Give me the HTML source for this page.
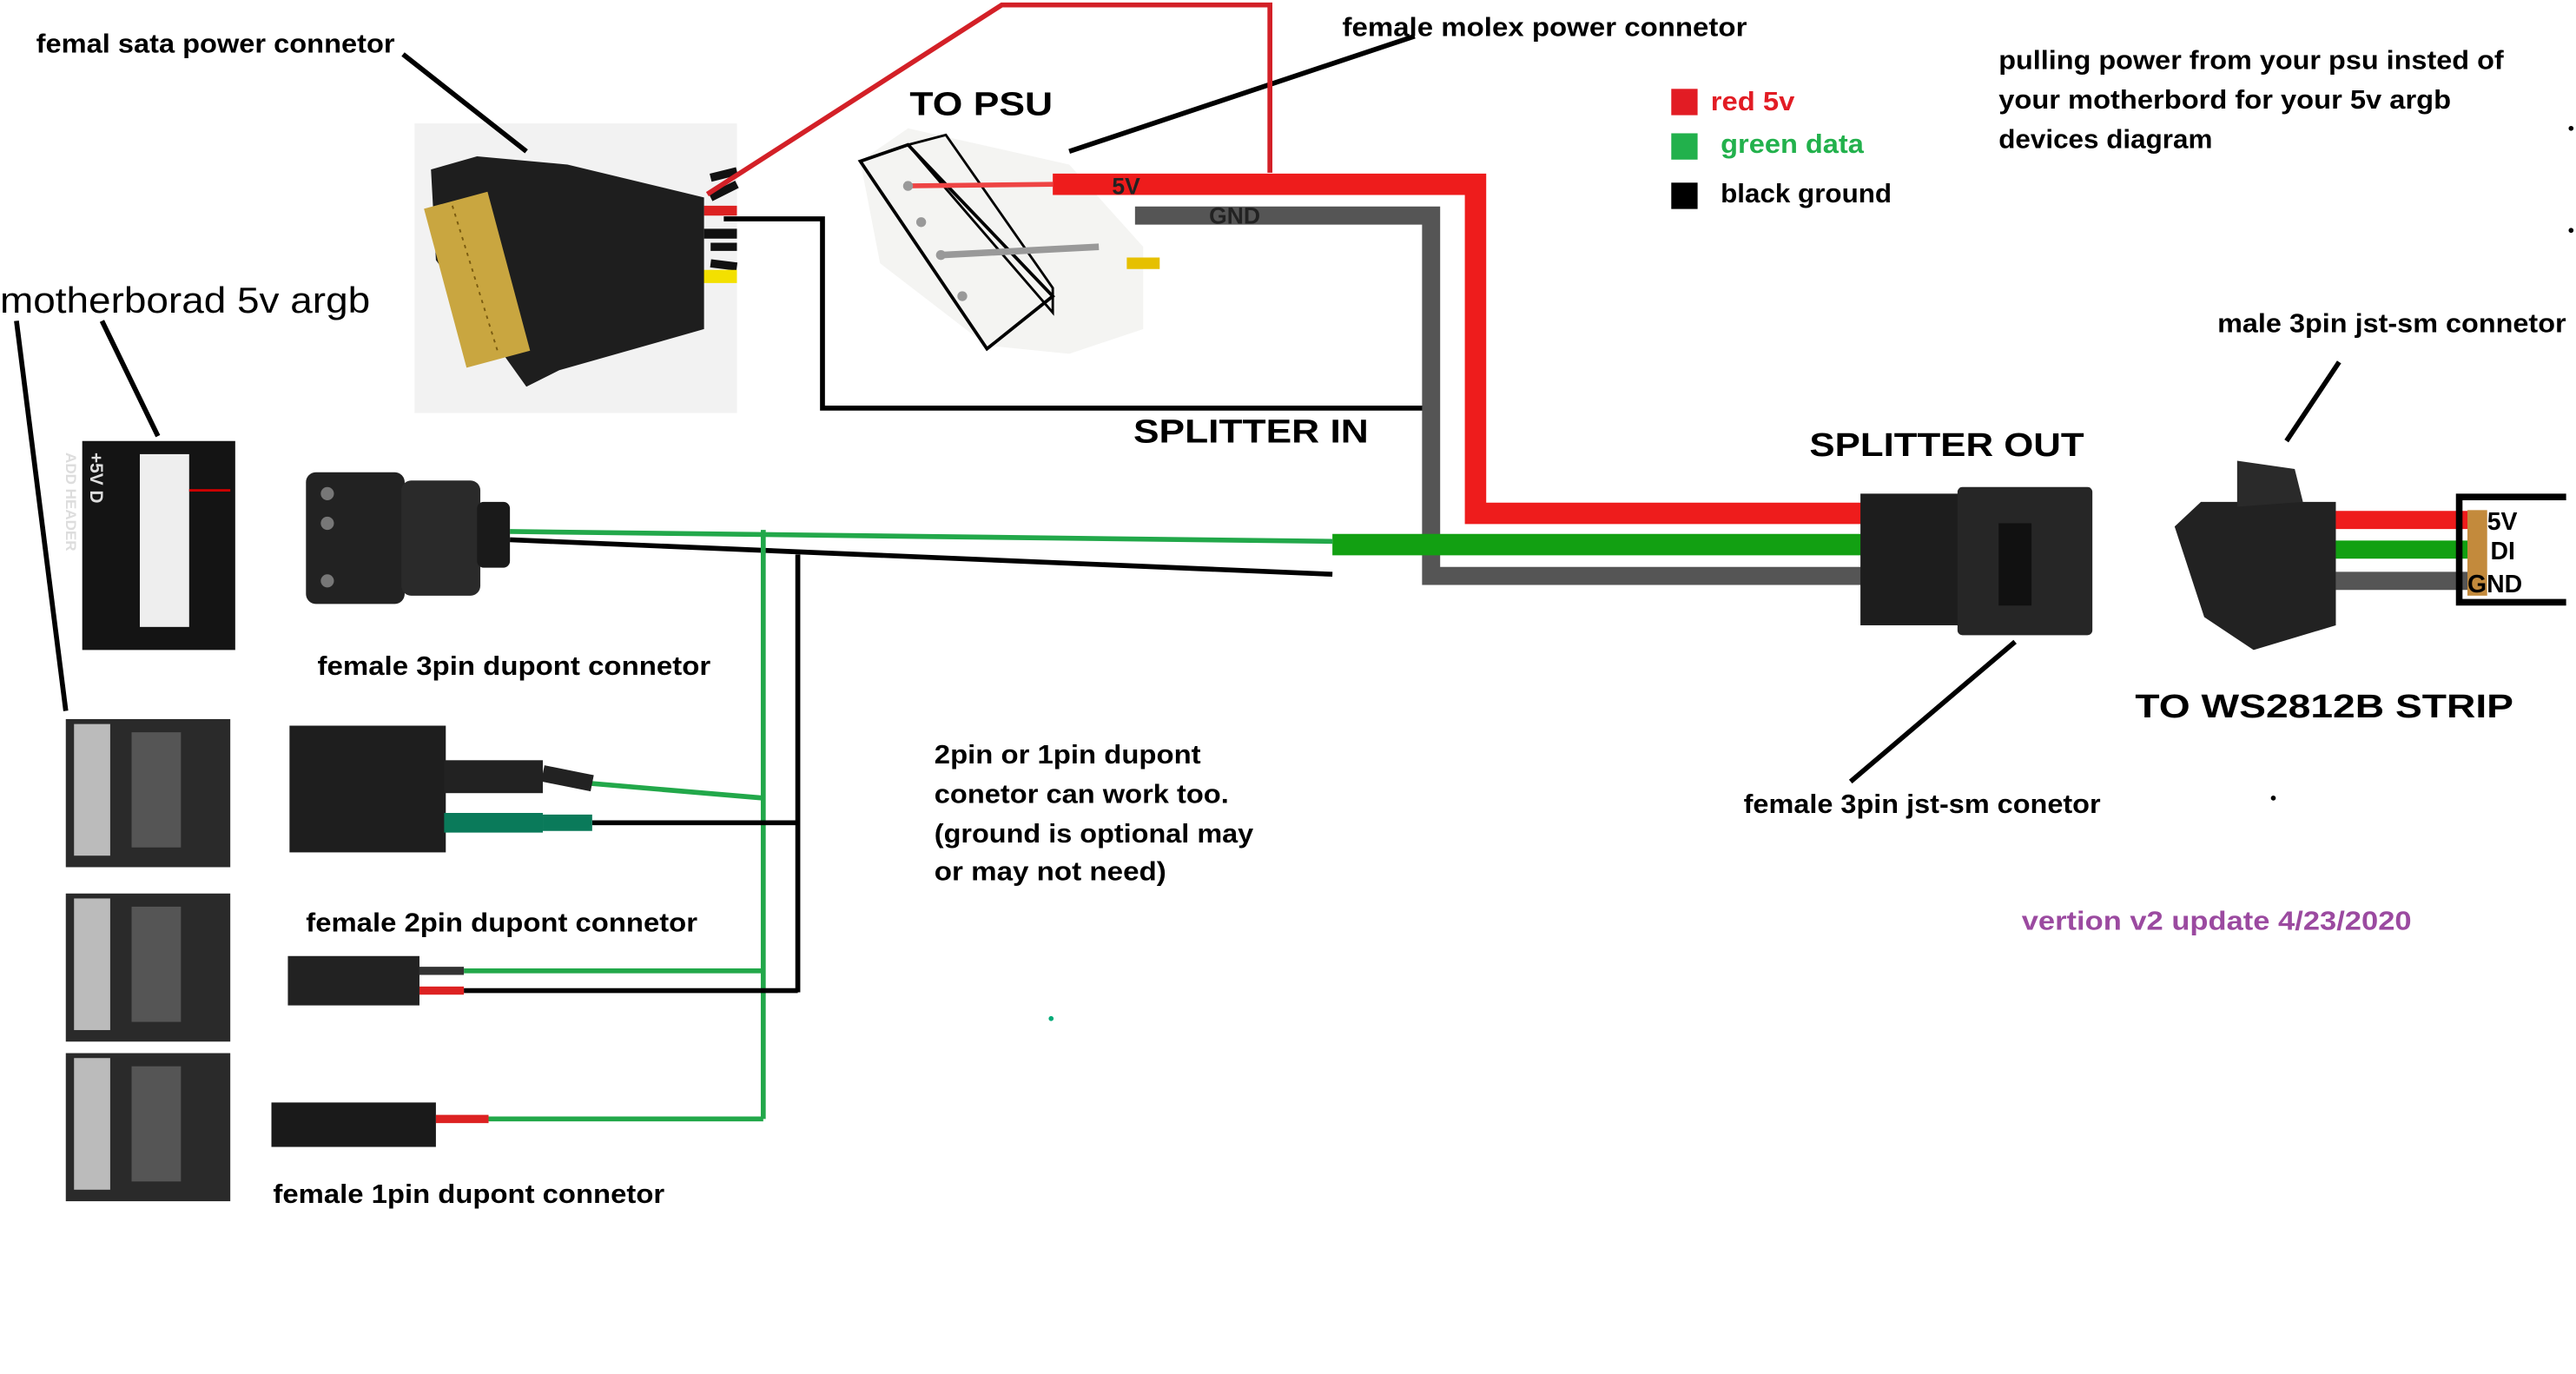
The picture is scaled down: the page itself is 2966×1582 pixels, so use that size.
<!DOCTYPE html>
<html><head><meta charset="utf-8"><style>
html,body{margin:0;padding:0;background:#fff;}
svg{display:block;}
text{font-family:"Liberation Sans",sans-serif;font-weight:bold;}
</style></head><body>
<svg width="2966" height="1582" viewBox="0 0 1566 835" preserveAspectRatio="none" xmlns="http://www.w3.org/2000/svg">
<rect width="1566" height="835" fill="#fff"/>
<!-- SATA photo -->
<rect x="252" y="75" width="196" height="176" fill="#f2f2f2"/>
<path d="M432 108 L448 104 M432 120 L448 112 M432 150 L448 150 M432 160 L448 162" stroke="#111" stroke-width="5"/>
<path d="M428 128 L448 128" stroke="#d22" stroke-width="6"/>
<path d="M428 142 L448 142" stroke="#111" stroke-width="6"/>
<path d="M426 168 L448 168" stroke="#f3e000" stroke-width="8"/>
<polygon points="262,103 290,95 345,100 428,120 428,200 340,225 320,235 265,158" fill="#1e1e1e"/>
<rect x="270" y="120" width="40" height="100" fill="#c9a640" transform="rotate(-15 290 170)"/>
<path d="M275 125 L303 215" stroke="#7a5b10" stroke-width="1" stroke-dasharray="2 3"/>
<!-- Molex photo -->
<polygon points="523,98 552,78 650,100 695,150 695,200 650,215 600,210 535,160" fill="#f4f4f2"/>
<polygon points="523,98 552,88 640,180 600,212" fill="none" stroke="#000" stroke-width="2"/>
<polygon points="552,88 575,82 640,175 640,190" fill="none" stroke="#000" stroke-width="1.5"/>
<path d="M550 113 L640 112" stroke="#e44" stroke-width="3"/>
<path d="M572 155 L668 150" stroke="#999" stroke-width="4"/>
<circle cx="552" cy="113" r="3" fill="#999"/><circle cx="560" cy="135" r="3" fill="#999"/><circle cx="572" cy="155" r="3" fill="#999"/><circle cx="585" cy="180" r="3" fill="#999"/>
<path d="M685 160 L705 160" stroke="#e6c000" stroke-width="7"/>
<!-- leader lines -->
<g stroke="#000" stroke-width="3" fill="none">
<path d="M245 33 L320 92"/>
<path d="M650 92 L860 22"/>
<path d="M10 195 L40 432"/>
<path d="M62 195 L96 265"/>
<path d="M1225 390 L1125 475"/>
<path d="M1422 220 L1390 268"/>
<path d="M440 133 L500 133 L500 248 L873 248"/>
</g>
<path d="M430 118 L609 3 L772 3 L772 105" stroke="#d32027" stroke-width="3" fill="none"/>
<!-- Thick wires -->
<path d="M640 112 L897 112 L897 312 L1135 312" stroke="#ee1c1c" stroke-width="13" fill="none"/>
<path d="M690 131 L870 131 L870 350 L1135 350" stroke="#555" stroke-width="11" fill="none"/>
<path d="M810 331 L1135 331" stroke="#12a012" stroke-width="13"/>
<text x="676" y="118" font-size="14" fill="#222">5V</text>
<text x="735" y="136" font-size="14" fill="#222">GND</text>
<!-- thin wires -->
<g fill="none" stroke-width="3">
<path d="M310 323 L810 329" stroke="#22a84a"/>
<path d="M310 328 L810 349" stroke="#000"/>
<path d="M464 322 L464 680" stroke="#22a84a"/>
<path d="M485 337 L485 603" stroke="#000"/>
<path d="M358 476 L464 485" stroke="#22a84a"/>
<path d="M360 500 L485 500" stroke="#000"/>
<path d="M282 590 L464 590" stroke="#22a84a"/>
<path d="M282 602 L485 602" stroke="#000"/>
<path d="M297 680 L464 680" stroke="#22a84a"/>
</g>
<!-- header photo -->
<rect x="50" y="268" width="93" height="127" fill="#141414"/>
<rect x="85" y="276" width="30" height="105" fill="#eee"/>
<path d="M115 298 L140 298" stroke="#c00" stroke-width="1.5"/>
<text transform="translate(55,275) rotate(90)" font-size="11" fill="#ddd">+5V D</text>
<text transform="translate(52,275) rotate(90)" font-size="9" fill="#ddd" dy="12">ADD HEADER</text>
<!-- 3pin dupont -->
<rect x="186" y="287" width="60" height="80" rx="6" fill="#222"/>
<rect x="244" y="292" width="48" height="70" rx="6" fill="#2a2a2a"/>
<rect x="290" y="305" width="20" height="40" rx="4" fill="#1a1a1a"/>
<circle cx="199" cy="300" r="4" fill="#777"/><circle cx="199" cy="318" r="4" fill="#777"/><circle cx="199" cy="353" r="4" fill="#777"/>
<!-- boards -->
<g fill="#2a2a2a">
<rect x="40" y="437" width="100" height="90"/>
<rect x="40" y="543" width="100" height="90"/>
<rect x="40" y="640" width="100" height="90"/>
</g>
<g fill="#bbb"><rect x="45" y="440" width="22" height="80"/><rect x="45" y="546" width="22" height="80"/><rect x="45" y="643" width="22" height="80"/></g>
<g fill="#555"><rect x="80" y="445" width="30" height="70"/><rect x="80" y="551" width="30" height="70"/><rect x="80" y="648" width="30" height="70"/></g>
<!-- 3pin dupont female block -->
<rect x="176" y="441" width="95" height="77" fill="#1e1e1e"/>
<rect x="270" y="462" width="60" height="20" fill="#222"/>
<path d="M270 500 L330 500" stroke="#0a7a5a" stroke-width="12"/>
<path d="M330 470 L360 476" stroke="#222" stroke-width="10"/>
<path d="M330 500 L360 500" stroke="#0a7a5a" stroke-width="10"/>
<!-- 2pin -->
<rect x="175" y="581" width="80" height="30" fill="#222"/>
<path d="M255 590 L282 590" stroke="#333" stroke-width="5"/>
<path d="M255 602 L282 602" stroke="#d22" stroke-width="5"/>
<!-- 1pin -->
<rect x="165" y="670" width="100" height="27" fill="#1a1a1a"/>
<path d="M265 680 L297 680" stroke="#d22" stroke-width="5"/>
<!-- splitter out -->
<rect x="1131" y="300" width="82" height="80" fill="#1d1d1d"/>
<rect x="1190" y="296" width="82" height="90" rx="3" fill="#262626"/>
<rect x="1215" y="318" width="20" height="50" fill="#111"/>
<!-- male -->
<polygon points="1322,320 1338,305 1420,305 1420,380 1370,395 1340,375" fill="#222"/>
<polygon points="1360,280 1395,285 1400,305 1360,308" fill="#2a2a2a"/>
<path d="M1420 316 L1505 316" stroke="#ee1c1c" stroke-width="11"/>
<path d="M1420 334 L1505 334" stroke="#12a012" stroke-width="11"/>
<path d="M1420 353 L1505 353" stroke="#555" stroke-width="11"/>
<rect x="1500" y="310" width="12" height="52" fill="#c38a3c"/>
<path d="M1493 302 L1560 302 M1493 366 L1560 366 M1495 300 L1495 368" stroke="#000" stroke-width="4" fill="none"/>
<text x="1512" y="322" font-size="15">5V</text>
<text x="1514" y="340" font-size="15">DI</text>
<text x="1500" y="360" font-size="15">GND</text>
<!-- legend -->
<rect x="1016" y="54" width="16" height="16" fill="#e21c24"/>
<rect x="1016" y="81" width="16" height="16" fill="#22b14c"/>
<rect x="1016" y="111" width="16" height="16" fill="#000"/>
<g lengthAdjust="spacingAndGlyphs">
<text x="1040" y="67" font-size="16" fill="#e21c24" textLength="51" lengthAdjust="spacingAndGlyphs">red 5v</text>
<text x="1046" y="93" font-size="16" fill="#22b14c" textLength="87" lengthAdjust="spacingAndGlyphs">green data</text>
<text x="1046" y="123" font-size="16" textLength="104" lengthAdjust="spacingAndGlyphs">black ground</text>
</g>
<!-- labels -->
<g font-size="16">
<text x="22" y="32" textLength="218" lengthAdjust="spacingAndGlyphs">femal sata power connetor</text>
<text x="816" y="22" textLength="246" lengthAdjust="spacingAndGlyphs">female molex power connetor</text>
<text x="1215" y="42" textLength="307" lengthAdjust="spacingAndGlyphs">pulling power from your psu insted of</text>
<text x="1215" y="66" textLength="275" lengthAdjust="spacingAndGlyphs">your motherbord for your 5v argb</text>
<text x="1215" y="90" textLength="130" lengthAdjust="spacingAndGlyphs">devices diagram</text>
<text x="193" y="410" textLength="239" lengthAdjust="spacingAndGlyphs">female 3pin dupont connetor</text>
<text x="186" y="566" textLength="238" lengthAdjust="spacingAndGlyphs">female 2pin dupont connetor</text>
<text x="166" y="731" textLength="238" lengthAdjust="spacingAndGlyphs">female 1pin dupont connetor</text>
<text x="568" y="464" textLength="162" lengthAdjust="spacingAndGlyphs">2pin or 1pin dupont</text>
<text x="568" y="488" textLength="179" lengthAdjust="spacingAndGlyphs">conetor can work too.</text>
<text x="568" y="512" textLength="194" lengthAdjust="spacingAndGlyphs">(ground is optional may</text>
<text x="568" y="535" textLength="141" lengthAdjust="spacingAndGlyphs">or may not need)</text>
<text x="1060" y="494" textLength="217" lengthAdjust="spacingAndGlyphs">female 3pin jst-sm conetor</text>
<text x="1348" y="202" textLength="212" lengthAdjust="spacingAndGlyphs">male 3pin jst-sm connetor</text>
<text x="1229" y="565" fill="#9b4aa0" textLength="237" lengthAdjust="spacingAndGlyphs">vertion v2 update 4/23/2020</text>
</g>
<text x="0" y="190" font-size="22" style="font-weight:normal" textLength="225" lengthAdjust="spacingAndGlyphs">motherborad 5v argb</text>
<g font-size="20">
<text x="553" y="70" textLength="87" lengthAdjust="spacingAndGlyphs">TO PSU</text>
<text x="689" y="269" textLength="143" lengthAdjust="spacingAndGlyphs">SPLITTER IN</text>
<text x="1100" y="277" textLength="167" lengthAdjust="spacingAndGlyphs">SPLITTER OUT</text>
<text x="1298" y="436" textLength="230" lengthAdjust="spacingAndGlyphs">TO WS2812B STRIP</text>
</g>
<circle cx="1382" cy="485" r="1.5" fill="#000"/>
<circle cx="639" cy="619" r="1.5" fill="#0a7"/>
<circle cx="1563" cy="78" r="1.5" fill="#000"/>
<circle cx="1563" cy="140" r="1.5" fill="#000"/>
</svg>
</body></html>
